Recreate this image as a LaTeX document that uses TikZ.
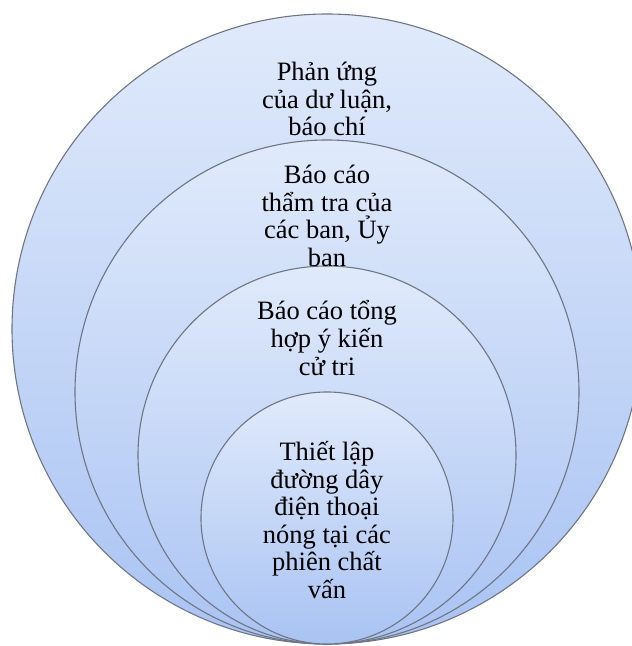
\documentclass[tikz,border=0pt]{standalone}
\usepackage{fontspec}
\setmainfont{Liberation Serif}
\definecolor{ctop}{HTML}{E0EAFB}
\definecolor{cbot}{HTML}{A9C3F3}
\definecolor{cline}{HTML}{6F7682}
\begin{document}
\begin{tikzpicture}[x=1pt,y=1pt,
  ring/.style={circle, draw=cline, line width=1.1pt, top color=ctop, bottom color=cbot, inner sep=0pt},
  lbl/.style={align=center, font=\fontsize{26.5}{27.6}\selectfont, text=black, inner sep=0pt}]
\useasboundingbox (0,0) rectangle (632,646);
\clip (0,0) rectangle (632,646);
\node[ring, minimum size=630pt] (c1) at (327,317) {};
\node[ring, minimum size=504pt] (c2) at (327,254) {};
\node[ring, minimum size=378pt] (c3) at (327,191) {};
\node[ring, minimum size=252pt] (c4) at (327,128) {};
\node[lbl] (t1) at (327,547) {Phản ứng\\của dư luận,\\báo chí};
\node[lbl] (t2) at (327,430) {Báo cáo\\thẩm tra của\\các ban, Ủy\\ban};
\node[lbl] (t3) at (327,308) {Báo cáo tổng\\hợp ý kiến\\cử tri};
\node[lbl] (t4) at (327,126) {Thiết lập\\đường dây\\điện thoại\\nóng tại các\\phiên chất\\vấn};
\end{tikzpicture}
\end{document}
